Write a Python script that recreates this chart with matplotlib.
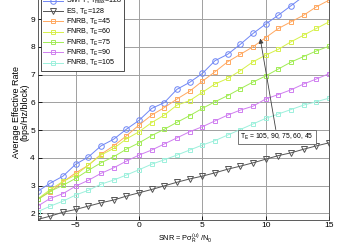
import numpy as np
import matplotlib
matplotlib.use("Agg")
import matplotlib.pyplot as plt

snr = list(range(-8, 16))

swft = [2.79, 3.09, 3.34, 3.77, 4.03, 4.43, 4.67, 5.03, 5.35, 5.78, 5.99, 6.47,
        6.72, 7.04, 7.50, 7.73, 8.09, 8.48, 8.82, 9.14, 9.48, 9.82, 10.15, 10.5]
es = [1.78, 1.90, 2.04, 2.14, 2.26, 2.38, 2.48, 2.62, 2.74, 2.86, 2.99, 3.12,
      3.24, 3.34, 3.46, 3.59, 3.70, 3.82, 3.95, 4.08, 4.18, 4.31, 4.43, 4.54]
fnrb45 = [2.50, 2.78, 3.13, 3.46, 3.73, 4.13, 4.43, 4.79, 5.18, 5.54, 5.81, 6.12,
          6.40, 6.76, 7.10, 7.46, 7.73, 8.00, 8.33, 8.66, 8.90, 9.14, 9.44, 9.68]
fnrb60 = [2.52, 2.86, 3.15, 3.38, 3.74, 4.10, 4.34, 4.68, 4.94, 5.27, 5.54, 5.90,
          6.06, 6.36, 6.66, 6.86, 7.14, 7.46, 7.70, 7.91, 8.18, 8.42, 8.66, 8.90]
fnrb75 = [2.50, 2.80, 3.01, 3.26, 3.55, 3.82, 4.04, 4.31, 4.54, 4.80, 5.03, 5.28,
          5.52, 5.78, 6.02, 6.24, 6.49, 6.73, 6.95, 7.20, 7.45, 7.65, 7.85, 8.02]
fnrb90 = [2.26, 2.54, 2.71, 2.98, 3.19, 3.44, 3.64, 3.88, 4.10, 4.28, 4.50, 4.72,
          4.94, 5.12, 5.33, 5.54, 5.72, 5.86, 6.12, 6.28, 6.45, 6.66, 6.84, 7.03]
fnrb105 = [2.06, 2.26, 2.44, 2.66, 2.83, 3.05, 3.20, 3.38, 3.57, 3.77, 3.93, 4.10,
           4.28, 4.46, 4.62, 4.82, 5.02, 5.22, 5.42, 5.58, 5.74, 5.90, 6.02, 6.15]

labels = [r"SWFT, T$_{max}$=128", r"ES, T$_E$=128", r"FNRB, T$_E$=45",
          r"FNRB, T$_E$=60", r"FNRB, T$_E$=75", r"FNRB, T$_E$=90",
          r"FNRB, T$_E$=105"]
xticks = [-5, 0, 5, 10, 15]
yticks = [2, 3, 4, 5, 6, 7, 8, 9, 10]

plt.rcParams['font.family'] = ['Liberation Sans', 'DejaVu Sans']
plt.rcParams['mathtext.fontset'] = 'custom'
plt.rcParams['mathtext.rm'] = 'Liberation Sans'
plt.rcParams['mathtext.it'] = 'Liberation Sans'

fig = plt.figure(figsize=(3.49, 2.42), dpi=100)
ax = fig.add_axes([0.108, 0.0921, 0.8347, 1.0012])

styles = [
    (swft, '#6f86f5', 'o', 4.0),
    (es, '#555555', 'v', 3.8),
    (fnrb45, '#ffa860', 's', 3.1),
    (fnrb60, '#d6f04a', 's', 3.1),
    (fnrb75, '#a2ec55', 's', 3.1),
    (fnrb90, '#cf7ef0', 's', 3.1),
    (fnrb105, '#9cf0dc', 's', 3.1),
]
for (vals, col, mk, ms), lab in zip(styles, labels):
    ax.plot(snr, vals, color=col, marker=mk, markersize=ms, markerfacecolor='none',
            markeredgewidth=0.7, linewidth=0.7, label=lab)

ax.set_xlim(-8, 15)
ax.set_ylim(1.77, 10.5)
ax.set_xticks(xticks)
ax.set_yticks(yticks)
ax.grid(True, color='#a0a0a0', linewidth=0.7)
ax.set_axisbelow(True)
ax.tick_params(direction='in', length=3, width=0.6, labelsize=6.0, pad=2)
for s in ax.spines.values():
    s.set_linewidth(0.6)
    s.set_color('#404040')

ax.set_xlabel(r"SNR = P$\sigma_R^{(u)}$ /N$_0$", fontsize=5.3)
ax.xaxis.set_label_coords(0.506, -0.05)
ax.set_ylabel("Average Effective Rate\n(bps/Hz/block)", fontsize=6.5, linespacing=1.0)
ax.yaxis.set_label_coords(-0.027, 0.444)

leg = ax.legend(loc='lower left', bbox_to_anchor=(0.011, 0.614), borderaxespad=0,
                fontsize=5.1, frameon=True, fancybox=False, edgecolor='#303030',
                framealpha=1, labelspacing=0.02, handlelength=2.7, handletextpad=0.5,
                borderpad=0.35)
leg.get_frame().set_linewidth(0.6)

ax.annotate(r"T$_E$ = 105, 90, 75, 60, 45", xy=(9.57, 8.30), xytext=(10.9, 4.75),
            fontsize=4.9, ha='center', va='center',
            bbox=dict(boxstyle='square,pad=0.3', fc='white', ec='#606060', lw=0.6),
            arrowprops=dict(arrowstyle='-|>', color='#404040', lw=0.6,
                            mutation_scale=7, shrinkA=0, shrinkB=0))

fig.savefig("out.png", dpi=100)
